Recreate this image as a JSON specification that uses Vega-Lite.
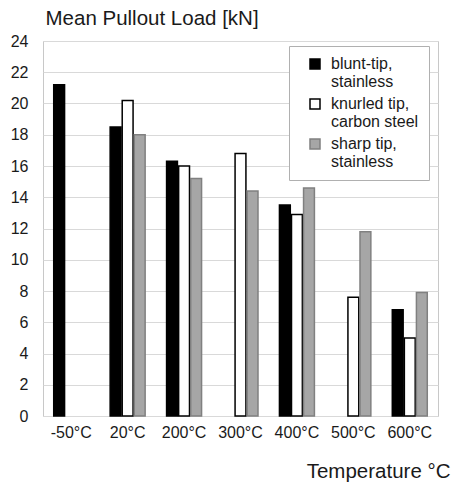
{
  "$schema": "https://vega.github.io/schema/vega-lite/v6.json",
  "width": 395,
  "height": 375,
  "autosize": {"type": "none"},
  "padding": {"left": 43, "top": 41, "right": 15, "bottom": 69},
  "background": "white",
  "config": {
    "font": "Liberation Sans",
    "view": {"stroke": "#c8c8c8", "strokeWidth": 1},
    "axis": {"labelFont": "Liberation Sans", "titleFont": "Liberation Sans", "labelColor": "#1a1a1a", "titleColor": "#1a1a1a"}
  },
  "data": {
    "values": [
      {"temp": "-50°C", "series": "blunt-tip, stainless", "load": 21.2},
      {"temp": "20°C", "series": "blunt-tip, stainless", "load": 18.5},
      {"temp": "20°C", "series": "knurled tip, carbon steel", "load": 20.2},
      {"temp": "20°C", "series": "sharp tip, stainless", "load": 18.0},
      {"temp": "200°C", "series": "blunt-tip, stainless", "load": 16.3},
      {"temp": "200°C", "series": "knurled tip, carbon steel", "load": 16.0},
      {"temp": "200°C", "series": "sharp tip, stainless", "load": 15.2},
      {"temp": "300°C", "series": "knurled tip, carbon steel", "load": 16.8},
      {"temp": "300°C", "series": "sharp tip, stainless", "load": 14.4},
      {"temp": "400°C", "series": "blunt-tip, stainless", "load": 13.5},
      {"temp": "400°C", "series": "knurled tip, carbon steel", "load": 12.9},
      {"temp": "400°C", "series": "sharp tip, stainless", "load": 14.6},
      {"temp": "500°C", "series": "knurled tip, carbon steel", "load": 7.6},
      {"temp": "500°C", "series": "sharp tip, stainless", "load": 11.8},
      {"temp": "600°C", "series": "blunt-tip, stainless", "load": 6.8},
      {"temp": "600°C", "series": "knurled tip, carbon steel", "load": 5.0},
      {"temp": "600°C", "series": "sharp tip, stainless", "load": 7.9}
    ]
  },
  "mark": {"type": "bar", "strokeWidth": 1.5},
  "encoding": {
    "x": {
      "field": "temp",
      "type": "nominal",
      "sort": ["-50°C", "20°C", "200°C", "300°C", "400°C", "500°C", "600°C"],
      "scale": {"paddingInner": 0.38, "paddingOuter": 0.19},
      "axis": {
        "title": "Temperature °C",
        "titleFontSize": 20.5,
        "titleFontWeight": "normal",
        "titleAnchor": "end",
        "titleAlign": "right",
        "titleX": 407,
        "titleY": 61,
        "titleBaseline": "alphabetic",
        "labelFontSize": 16,
        "labelAngle": 0,
        "labelPadding": 8,
        "ticks": false,
        "domain": false
      }
    },
    "xOffset": {
      "field": "series",
      "type": "nominal",
      "sort": ["blunt-tip, stainless", "knurled tip, carbon steel", "sharp tip, stainless"],
      "scale": {"paddingInner": 0.1, "paddingOuter": 0}
    },
    "y": {
      "field": "load",
      "type": "quantitative",
      "scale": {"domain": [0, 24]},
      "axis": {
        "values": [0, 2, 4, 6, 8, 10, 12, 14, 16, 18, 20, 22, 24],
        "title": "Mean Pullout Load [kN]",
        "titleAngle": 0,
        "titleFontSize": 20.5,
        "titleFontWeight": "normal",
        "titleAlign": "left",
        "titleAnchor": "start",
        "titleX": 2,
        "titleY": -17,
        "titleBaseline": "alphabetic",
        "labelFontSize": 16,
        "labelPadding": 15,
        "ticks": false,
        "domain": false,
        "gridColor": "#d9d9d9",
        "gridWidth": 1
      }
    },
    "fill": {
      "field": "series",
      "type": "nominal",
      "scale": {
        "domain": ["blunt-tip, stainless", "knurled tip, carbon steel", "sharp tip, stainless"],
        "range": ["#000000", "#ffffff", "#a6a6a6"]
      },
      "legend": {
        "title": null,
        "orient": "none",
        "legendX": 246,
        "legendY": 5,
        "padding": 10,
        "symbolOffset": 8,
        "labelOffset": 8,
        "fillColor": "white",
        "strokeColor": "#b0b0b0",
        "symbolType": "square",
        "symbolSize": 100,
        "symbolStrokeWidth": 1.5,
        "labelFontSize": 16,
        "labelColor": "#1a1a1a",
        "labelFont": "Liberation Sans",
        "labelLimit": 200,
        "rowPadding": 6,
        "labelExpr": "[split(datum.label, ', ')[0] + ',', split(datum.label, ', ')[1]]"
      }
    },
    "stroke": {
      "field": "series",
      "type": "nominal",
      "scale": {
        "domain": ["blunt-tip, stainless", "knurled tip, carbon steel", "sharp tip, stainless"],
        "range": ["#000000", "#000000", "#808080"]
      },
      "legend": {
        "title": null,
        "orient": "none",
        "legendX": 246,
        "legendY": 5,
        "padding": 10,
        "symbolOffset": 8,
        "labelOffset": 8,
        "fillColor": "white",
        "strokeColor": "#b0b0b0",
        "symbolType": "square",
        "symbolSize": 100,
        "symbolStrokeWidth": 1.5,
        "labelFontSize": 16,
        "labelColor": "#1a1a1a",
        "labelFont": "Liberation Sans",
        "labelLimit": 200,
        "rowPadding": 6,
        "labelExpr": "[split(datum.label, ', ')[0] + ',', split(datum.label, ', ')[1]]"
      }
    }
  }
}
